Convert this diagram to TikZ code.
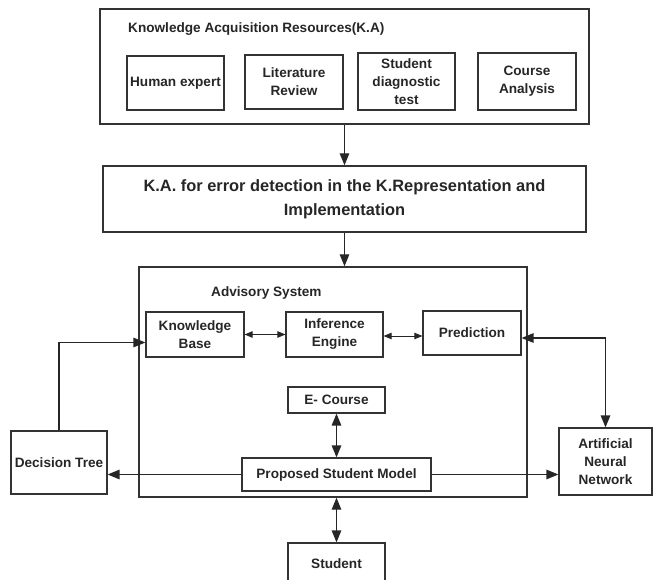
\documentclass[tikz,border=0pt]{standalone}
\usepackage{fontspec}
\setmainfont{Liberation Sans}
\usepackage{tikz}
\usetikzlibrary{
    positioning,
    arrows.meta,
    calc
}

\begin{document}
\begin{tikzpicture}[x=1pt, y=-1pt,
    font=\fontsize{13.6}{18}\selectfont\bfseries, text=black!85,
    rbox/.style={draw=black!80, line width=1.2pt, align=center, inner sep=2pt},
    obox/.style={draw=black!80, line width=1.4pt, inner sep=0pt},
    arr/.style={-{Triangle[length=12pt, width=9.5pt]}, line width=1.4pt, draw=black!85},
    darr/.style={{Triangle[length=12pt, width=9.5pt]}-{Triangle[length=12pt, width=9.5pt]},
                 line width=1.4pt, draw=black!85},
    thinarr/.style={{Triangle[length=8pt, width=6.5pt]}-{Triangle[length=8pt, width=6.5pt]},
                    line width=0.9pt, draw=black!85},
    titlelab/.style={anchor=west, inner sep=0pt}]

    \useasboundingbox (0,0) rectangle (654,580);

    % Knowledge acquisition resources
    \node[obox, minimum width=489pt, minimum height=115pt] (KAR) at (344.5, 66.5) {};
    \node[titlelab] (KARlab) at (128, 29) {Knowledge Acquisition Resources(K.A)};
    \node[rbox, minimum width=97pt, minimum height=54pt] (HE) at (175.5, 83) {Human expert};
    \node[rbox, minimum width=98pt, minimum height=54pt] (LR) at (294, 82) {Literature\\Review};
    \node[rbox, minimum width=97pt, minimum height=57pt] (SDT) at (406.5, 81.5) {Student\\diagnostic\\test};
    \node[rbox, minimum width=98pt, minimum height=57pt] (CA) at (527, 81.5) {Course\\Analysis};

    % K.A. for error detection
    \node[obox, minimum width=483pt, minimum height=66pt, align=center,
          font=\fontsize{16.4}{24}\selectfont\bfseries] (KAE) at (344.5, 199)
      {K.A. for error detection in the K.Representation and\\Implementation};
    \draw[arr] (KAR.south) to (KAE.north);

    % Advisory system
    \node[obox, minimum width=388pt, minimum height=230pt] (ADV) at (333, 382) {};
    \node[titlelab] (ADVlab) at (211, 293) {Advisory System};
    \draw[arr] (KAE.south) to (KAE.south |- ADV.north);

    \node[rbox, minimum width=98pt, minimum height=45pt] (KB) at (195, 334.5) {Knowledge\\Base};
    \node[rbox, minimum width=97pt, minimum height=45pt] (IE) at (334.5, 334.5) {Inference\\Engine};
    \node[rbox, minimum width=98pt, minimum height=44pt] (PR) at (472, 333) {Prediction};
    \draw[thinarr] (KB.east) to (IE.west);
    \draw[thinarr] ([yshift=-1.5pt]IE.east) to ([yshift=-1.5pt]IE.east -| PR.west);

    \node[rbox, minimum width=97pt, minimum height=26pt] (EC) at (336.5, 400) {E- Course};
    \node[rbox, minimum width=189pt, minimum height=33pt] (PSM) at (336.5, 474.5) {Proposed Student Model};
    \draw[darr] (EC.south) to (PSM.north);

    % Outside models
    \node[rbox, minimum width=96pt, minimum height=63pt] (DT) at (59, 462.5) {Decision Tree};
    \node[rbox, minimum width=93pt, minimum height=67pt] (ANN) at (605.5, 461.5)
      {Artificial\\Neural\\Network};
    \draw[arr] (DT.north) |- ([yshift=-8pt]KB.west);
    \draw[darr] ([yshift=-5pt]PR.east) -| (ANN.north);
    \draw[arr] (PSM.west) to (PSM.west -| DT.east);
    \draw[arr] (PSM.east) to (PSM.east -| ANN.west);

    % Student
    \node[rbox, minimum width=97pt, minimum height=41pt] (ST) at (336.5, 563.5) {Student};
    \draw[darr] (ST.north) to (ST.north |- ADV.south);

  \end{tikzpicture}
\end{document}
